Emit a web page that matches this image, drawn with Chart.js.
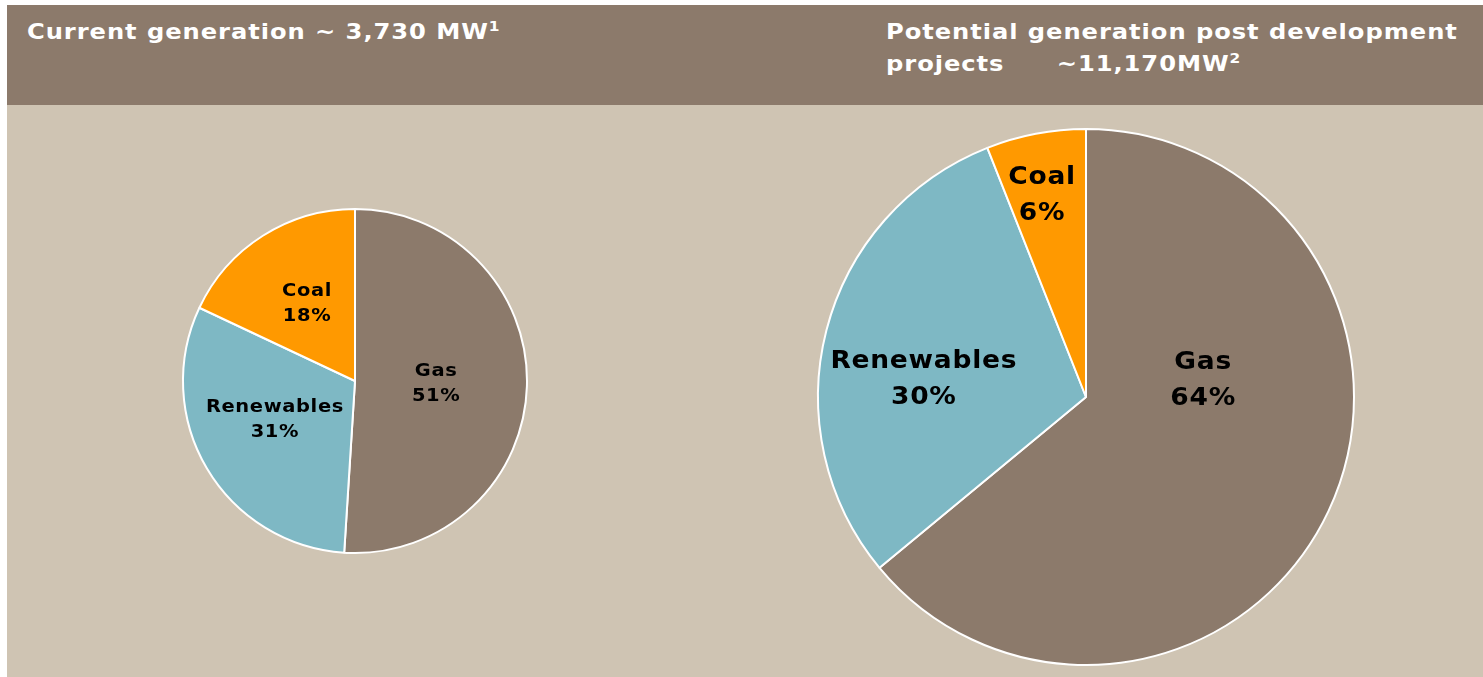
<!DOCTYPE html>
<html>
<head>
<meta charset="utf-8">
<script src="https://cdn.jsdelivr.net/npm/chart.js@4"></script>
<style>
  html, body { margin: 0; padding: 0; background: #ffffff; width: 1483px; height: 677px; overflow: hidden; }
  #header { position: absolute; left: 7px; top: 5px; width: 1476px; height: 100px; background: #8c7a6b; }
  #panel { position: absolute; left: 7px; top: 105px; width: 1476px; height: 572px; background: #cfc4b3; }
  .htxt { position: absolute; color: #ffffff; font-family: "DejaVu Sans", Verdana, sans-serif; font-weight: bold; font-size: 22px; letter-spacing: 0.85px; line-height: 32px; white-space: pre; transform: scaleX(1.1); transform-origin: 0 0; }
  .htxt sup { font-size: 14px; vertical-align: 8px; line-height: 0; letter-spacing: 0; }
  .gap { display: inline-block; width: 5px; }
  #h1 { left: 27px; top: 16px; }
  #h2 { left: 886px; top: 16px; }
  canvas { position: absolute; }
  #c1wrap { position: absolute; left: 155px; top: 181px; width: 400px; height: 400px; }
  #c2wrap { position: absolute; left: 806px; top: 117px; width: 560px; height: 560px; }
</style>
</head>
<body>
<div id="header"></div>
<div id="panel"></div>
<div class="htxt" id="h1">Current generation ~ 3,730 MW<sup>1</sup></div>
<div class="htxt" id="h2">Potential generation post development
projects     <span class="gap"></span>~11,170MW<sup>2</sup></div>
<div id="c1wrap"><canvas id="c1" width="400" height="400"></canvas></div>
<div id="c2wrap"><canvas id="c2" width="560" height="560"></canvas></div>
<script>
// ---- data ----
const categories = ['Gas', 'Renewables', 'Coal'];
const currentShare = [51, 31, 18];      // % of ~3,730 MW
const potentialShare = [64, 30, 6];     // % of ~11,170 MW
const sliceColors = ['#8c7a6b', '#7eb8c4', '#ff9900'];

// label placement (degrees clockwise from 12 o'clock, fraction of radius)
const currentLabelPos = [[92, 0.47], [244, 0.52], [328, 0.53]];
const potentialLabelPos = [[82, 0.44], [276, 0.61], [347.6, 0.77]];

const sliceLabels = {
  id: 'sliceLabels',
  afterDatasetsDraw(chart, args, opts) {
    const ctx = chart.ctx;
    const meta = chart.getDatasetMeta(0);
    const values = chart.data.datasets[0].data;
    meta.data.forEach((arc, i) => {
      const p = opts.pos[i];
      const a = (p[0] - 90) * Math.PI / 180;
      const r = arc.outerRadius * p[1];
      const x = arc.x + Math.cos(a) * r;
      const y = arc.y + Math.sin(a) * r;
      ctx.save();
      ctx.translate(x, y);
      ctx.scale(opts.stretch, 1);
      ctx.fillStyle = '#000000';
      ctx.textAlign = 'center';
      ctx.textBaseline = 'middle';
      ctx.font = 'bold ' + opts.size + 'px "DejaVu Sans", Verdana, sans-serif';
      if ('letterSpacing' in ctx) ctx.letterSpacing = opts.spacing + 'px';
      ctx.fillText(chart.data.labels[i], opts.spacing / 2, -opts.gap / 2);
      ctx.fillText(values[i] + '%', opts.spacing / 2, opts.gap / 2);
      ctx.restore();
    });
  }
};

function makePie(id, values, radius, pos, size, stretch, spacing, gap) {
  return new Chart(document.getElementById(id), {
    type: 'pie',
    data: {
      labels: categories,
      datasets: [{
        data: values,
        backgroundColor: sliceColors,
        borderColor: '#ffffff',
        borderWidth: 2,
        radius: radius
      }]
    },
    options: {
      responsive: false,
      animation: false,
      layout: { padding: 0 },
      plugins: {
        legend: { display: false },
        tooltip: { enabled: false },
        sliceLabels: { pos: pos, size: size, stretch: stretch, spacing: spacing, gap: gap }
      }
    },
    plugins: [sliceLabels]
  });
}

makePie('c1', currentShare, 172, currentLabelPos, 18, 1.08, 0.6, 25);
makePie('c2', potentialShare, 268, potentialLabelPos, 25, 1.06, 0.7, 36);
</script>
</body>
</html>
